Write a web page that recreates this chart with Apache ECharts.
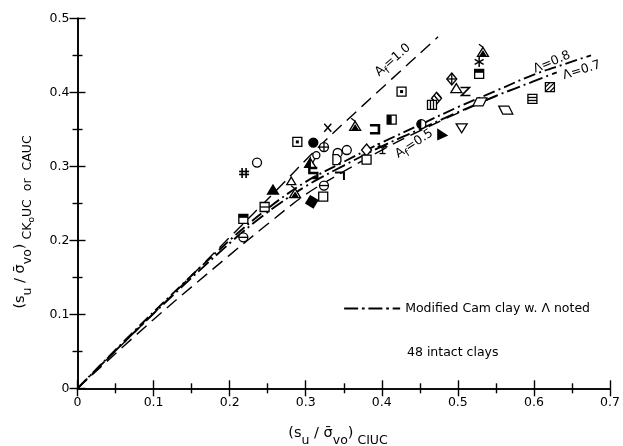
<!DOCTYPE html>
<html><head><meta charset="utf-8">
<script src="https://cdn.jsdelivr.net/npm/echarts@6/dist/echarts.min.js"></script>
<style>html,body{margin:0;padding:0;background:#fff}#c{width:623px;height:446px}</style>
</head><body><div id="c"></div>
<script>
// ---- data ----
const xTickLabels = ['0', '0.1', '0.2', '0.3', '0.4', '0.5', '0.6', '0.7'];
const yTickLabels = ['0', '0.1', '0.2', '0.3', '0.4', '0.5'];

// 48 intact clays: (su/σvo)CIUC vs (su/σvo)CK0UC or CAUC
const clayX = [0.219,0.236,0.257,0.281,0.286,0.246,0.218,0.218,0.308,0.323,
               0.324,0.345,0.310,0.289,0.310,0.324,0.306,0.314,0.329,0.365,
               0.391,0.413,0.342,0.354,0.341,0.380,0.380,0.401,0.452,0.479,
               0.505,0.529,0.563,0.598,0.621,0.528,0.528,0.533,0.492,0.498,
               0.510,0.472,0.466,0.426];
const clayY = [0.291,0.305,0.268,0.280,0.263,0.245,0.229,0.204,0.252,0.259,
               0.274,0.287,0.291,0.333,0.332,0.326,0.304,0.315,0.352,0.354,
               0.350,0.363,0.318,0.322,0.309,0.322,0.309,0.324,0.357,0.343,
               0.352,0.387,0.376,0.391,0.407,0.425,0.441,0.454,0.418,0.405,
               0.401,0.392,0.383,0.401];
const clayMarker = ['hash','circle','triFilled','triSmall','triFlag','squareLine','squareTop','circleBar','tiltBlack','square',
                    'circleBar','bracket','sBold','squareDot','dot','circleCross','triHalf','circleTail','x','triFlag',
                    'squareBracket','squareHalf','circle','circle','dShape','diamond','square','yShape','circleHalf','triRight',
                    'triDown','para1','para2','squareH','squareHatch','squareTop','asterisk','triFlag','diamondCross','triUp',
                    'zShape','diamondHatch','squareV','squareDot'];

// A_f = 1.0 line
const afOneX = [0, 0.1, 0.2, 0.26, 0.316, 0.375, 0.474];
const afOneY = [0, 0.101, 0.204, 0.266, 0.325, 0.382, 0.475];
// A_f = 0.5 line
const afHalfX = [0, 0.1, 0.2, 0.25, 0.3, 0.35, 0.4, 0.45, 0.5, 0.55];
const afHalfY = [0, 0.093, 0.180, 0.222, 0.262, 0.293, 0.322, 0.348, 0.372, 0.395];
// Modified Cam clay, Λ = 0.8
const camHighX = [0, 0.1, 0.2, 0.25, 0.3, 0.35, 0.4, 0.45, 0.5, 0.55, 0.6, 0.64, 0.675];
const camHighY = [0, 0.103, 0.200, 0.243, 0.279, 0.306, 0.332, 0.356, 0.380, 0.402, 0.424, 0.438, 0.450];
// Modified Cam clay, Λ = 0.7
const camLowX = [0, 0.1, 0.2, 0.25, 0.3, 0.35, 0.4, 0.45, 0.5, 0.55, 0.6, 0.63];
const camLowY = [0, 0.101, 0.196, 0.238, 0.273, 0.301, 0.327, 0.350, 0.373, 0.395, 0.415, 0.427];

// line labels
const lineLabelKeys = ['af1', 'af05', 'lam08', 'lam07'];
const lineLabelX = [0.415, 0.443, 0.624, 0.663];
const lineLabelY = [0.443, 0.330, 0.440, 0.429];
const lineLabelAngle = [41, 33, 23, 17];

// ---- drawing ----
const FONT = 'DejaVu Sans';
const K = '#000', W = '#fff', LW = 1.3, S = 4.5;
const zip = (a, b) => a.map((v, i) => [v, b[i]]);

const st = f => ({fill: f, stroke: K, lineWidth: LW});
const ln = (x1, y1, x2, y2, w) => ({type: 'line', shape: {x1, y1, x2, y2}, style: {stroke: K, lineWidth: w || LW}});
const sq = f => ({type: 'rect', shape: {x: -S, y: -S, width: 2 * S, height: 2 * S}, style: st(f)});
const rc = (x, y, w, h) => ({type: 'rect', shape: {x, y, width: w, height: h}, style: {fill: K}});
const ci = (f, r) => ({type: 'circle', shape: {cx: 0, cy: 0, r: r || S}, style: st(f)});
const pg = (pts, f) => ({type: 'polygon', shape: {points: pts}, style: st(f)});
const pl = (pts, w) => ({type: 'polyline', shape: {points: pts}, style: {stroke: K, fill: null, lineWidth: w || LW}});
const TRI = [[0, -5], [5.5, 4], [-5.5, 4]];
const DIA = [[0, -6], [5, 0], [0, 6], [-5, 0]];

const MARKERS = {
  hash: () => [ln(-2, -5, -2, 5, 1.6), ln(2, -5, 2, 5, 1.6), ln(-5, -1.5, 5, -1.5, 1.6), ln(-5, 1.5, 5, 1.5, 1.6)],
  circle: () => [ci(W)],
  circleTail: () => [ci(W, 3.5), ln(-1.5, 3.5, -4, 8)],
  dot: () => [ci(K)],
  triFilled: () => [pg(TRI, K)],
  triUp: () => [pg(TRI, W)],
  triSmall: () => [pg([[0, -4], [4.5, 3.5], [-4.5, 3.5]], W)],
  triFlag: () => [pg(TRI, W), pg([[0, -1], [2.5, 3], [-2.5, 3]], K), ln(0, -5, -4, -8)],
  triHalf: () => [pg(TRI, W), pg([[0, -5], [0, 4], [-5.5, 4]], K)],
  triDown: () => [pg([[-5.5, -4], [5.5, -4], [0, 5]], W)],
  triRight: () => [pg([[-4, -5], [5, 1], [-4, 5]], K)],
  square: () => [sq(W)],
  squareDot: () => [sq(W), rc(-1.5, -1.5, 3, 3)],
  squareH: () => [sq(W), ln(-S, -1.5, S, -1.5), ln(-S, 1.5, S, 1.5)],
  squareV: () => [sq(W), ln(-1.5, -S, -1.5, S), ln(1.5, -S, 1.5, S)],
  squareHatch: () => [sq(W), ln(-S, S, S, -S), ln(-S, 0, 0, -S), ln(0, S, S, 0)],
  squareTop: () => [sq(W), rc(-S, -S, 2 * S, 3.5)],
  squareHalf: () => [sq(W), rc(-S, -S, S, 2 * S)],
  squareLine: () => [sq(W), ln(-S, 0, S, 0)],
  tiltBlack: () => [pg([[-1.5, -6], [6, -1.5], [1.5, 6], [-6, 1.5]], K)],
  circleBar: () => [ci(W), ln(-S, 0, S, 0)],
  circleCross: () => [ci(W), ln(-S, 0, S, 0), ln(0, -S, 0, S)],
  circleHalf: () => [ci(W), {type: 'sector', shape: {cx: 0, cy: 0, r0: 0, r: S, startAngle: Math.PI / 2, endAngle: Math.PI * 1.5}, style: {fill: K}}],
  x: () => [ln(-3.5, -4, 3.5, 4, 1.5), ln(-3.5, 4, 3.5, -4, 1.5)],
  asterisk: () => [ln(0, -5, 0, 5, 1.5), ln(-4.5, -2.5, 4.5, 2.5, 1.5), ln(-4.5, 2.5, 4.5, -2.5, 1.5)],
  bracket: () => [pl([[-5, -3.5], [4, -3.5], [4, 4]], 2)],
  sBold: () => [pl([[4, -5], [-4, -5], [-4, 0], [4, 0], [4, 5], [-1, 5]], 2.4)],
  squareBracket: () => [pl([[-5, -4], [4, -4], [4, 4], [-5, 4]], 2.6)],
  dShape: () => [pg([[-4, -5], [1, -5], [4, -2], [4, 2], [1, 5], [-4, 5]], W)],
  yShape: () => [ln(-5, -5, 0, 0), ln(5, -5, 0, 0), ln(0, 0, 0, 5), ln(-5, -2, 5, -2), ln(-3, 5, 3, 5)],
  zShape: () => [pl([[-5, -4], [4, -4], [-4, 4], [5, 4]], 1.6)],
  diamond: () => [pg(DIA, W)],
  diamondCross: () => [pg(DIA, W), ln(0, -6, 0, 6), ln(-5, 0, 5, 0)],
  diamondHatch: () => [pg(DIA, W), ln(-2.5, -3, 2.5, 3), ln(-4.5, 0.5, -0.5, 5), ln(0.5, -5, 4.5, -0.5)],
  para1: () => [pg([[-7, 4], [-3, -4], [7, -4], [3, 4]], W)],
  para2: () => [pg([[-7, -4], [3, -4], [7, 4], [-3, 4]], W)]
};

const chart = echarts.init(document.getElementById('c'));

const axisCommon = {
  type: 'value',
  axisLine: {show: true, lineStyle: {color: K, width: 1.6}},
  axisTick: {show: true, inside: true, length: 8, lineStyle: {color: K, width: 1.4}},
  minorTick: {show: true, splitNumber: 2, length: 5, lineStyle: {color: K, width: 1.4}},
  splitLine: {show: false},
  minorSplitLine: {show: false}
};
const lblStyle = {color: K, fontFamily: FONT, fontSize: 12.5};

const lineSeries = (name, xs, ys, type, width) => ({
  name, type: 'line', data: zip(xs, ys), symbol: 'none', smooth: 0.35,
  lineStyle: {color: K, width, type}, itemStyle: {color: K}, silent: true, z: 2
});

const DASHDOT_ICON = 'path://M0,0H15V2H0Z M19,0H22V2H19Z M26,0H41V2H26Z M45,0H48V2H45Z M52,0H60V2H52Z';

const option = {
  animation: false,
  backgroundColor: '#fff',
  grid: {left: 77.5, right: 13, top: 18.3, bottom: 57.7},
  xAxis: [
    Object.assign({}, axisCommon, {min: 0, max: 0.7, interval: 0.1, position: 'bottom',
      axisLabel: Object.assign({}, lblStyle, {margin: 8, formatter: v => xTickLabels[Math.round(v * 10)]})}),
    Object.assign({}, axisCommon, {min: 0, max: 0.7, interval: 0.1, position: 'top', axisLabel: {show: false}})
  ],
  yAxis: [
    Object.assign({}, axisCommon, {min: 0, max: 0.5, interval: 0.1, position: 'left',
      axisLabel: Object.assign({}, lblStyle, {margin: 8, formatter: v => yTickLabels[Math.round(v * 10)]})}),
    Object.assign({}, axisCommon, {min: 0, max: 0.5, interval: 0.1, position: 'right', axisLabel: {show: false}})
  ],
  legend: {
    data: [{name: 'Modified Cam clay w. Λ noted', icon: DASHDOT_ICON, itemStyle: {color: K}}],
    right: 28, top: 297, itemWidth: 56, itemHeight: 2, itemGap: 8,
    textStyle: {color: K, fontFamily: FONT, fontSize: 12.5}
  },
  series: [
    lineSeries('Af1', afOneX, afOneY, [13, 7], 1.4),
    lineSeries('Af05', afHalfX, afHalfY, [13, 7], 1.4),
    lineSeries('Modified Cam clay w. Λ noted', camHighX, camHighY, [12, 4, 2, 4], 1.9),
    lineSeries('Cam07', camLowX, camLowY, [14, 4, 2, 4], 1.9),
    {
      type: 'custom',
      data: zip(clayX, clayY),
      encode: {x: 0, y: 1},
      z: 5,
      renderItem: (params, api) => {
        const p = api.coord([api.value(0), api.value(1)]);
        return {type: 'group', x: p[0], y: p[1], children: MARKERS[clayMarker[params.dataIndex]]()};
      }
    }
  ]
};
chart.setOption(option);

// ---- text annotations placed via the chart's own scales ----
const rich = {
  m: {fontFamily: FONT, fontSize: 14.5, lineHeight: 18, verticalAlign: 'top', fill: K, color: K},
  s: {fontFamily: FONT, fontSize: 12.5, lineHeight: 14, verticalAlign: 'top', padding: [8, 0, 0, 0], fill: K, color: K},
  ss: {fontFamily: FONT, fontSize: 9, lineHeight: 10, verticalAlign: 'top', padding: [14, 0, 0, 0], fill: K, color: K},
  l: {fontFamily: FONT, fontSize: 12.5, lineHeight: 14, verticalAlign: 'top', fill: K, color: K},
  ls: {fontFamily: FONT, fontSize: 10, lineHeight: 10, verticalAlign: 'top', padding: [6, 0, 0, 0], fill: K, color: K}
};
const labelText = {
  af1: '{l|A}{ls|f}{l|=1.0}',
  af05: '{l|A}{ls|f}{l|=0.5}',
  lam08: '{l|Λ=0.8}',
  lam07: '{l|Λ=0.7}'
};
const graphics = lineLabelKeys.map((k, i) => {
  const p = chart.convertToPixel({gridIndex: 0}, [lineLabelX[i], lineLabelY[i]]);
  return {type: 'text', x: p[0], y: p[1], rotation: lineLabelAngle[i] * Math.PI / 180,
    style: {text: labelText[k], rich, align: 'center', verticalAlign: 'middle'}};
});
graphics.push({type: 'text', x: 22, y: 222, rotation: Math.PI / 2,
  style: {text: '{m|(s}{s|u}{m| / σ̄}{s|vo}{m|)}{s| CK}{ss|o}{s|UC  or  CAUC}', rich, align: 'center', verticalAlign: 'middle'}});
graphics.push({type: 'text', x: 338, y: 435,
  style: {text: '{m|(s}{s|u}{m| / σ̄}{s|vo}{m|)}{s| CIUC}', rich, align: 'center', verticalAlign: 'middle'}});
graphics.push({type: 'text', x: 407, y: 353,
  style: {text: '48 intact clays', fontFamily: FONT, fontSize: 12.5, fill: K, align: 'left', verticalAlign: 'middle'}});
chart.setOption({graphic: graphics});
</script>
</body></html>
